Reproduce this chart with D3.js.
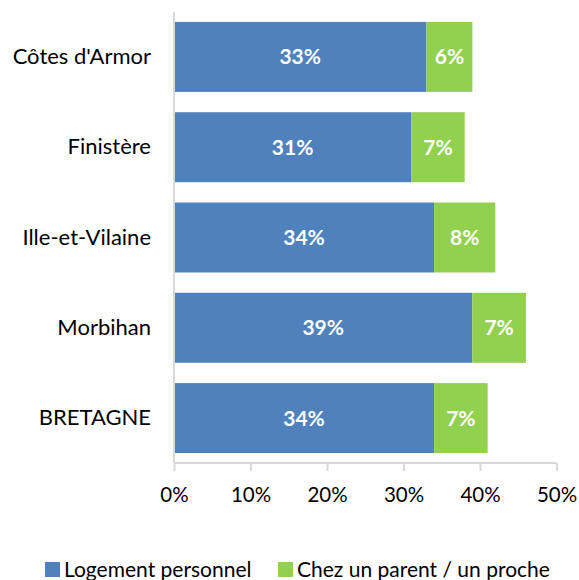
<!DOCTYPE html>
<html><head><meta charset="utf-8">
<script src="https://cdn.jsdelivr.net/npm/d3@7"></script>
<style>body{margin:0;background:#fff}svg{display:block}text{font-family:Lato,"Open Sans",sans-serif}</style>
</head><body><svg id="c" width="579" height="580"></svg>
<script>
const categories = ["Côtes d'Armor", "Finistère", "Ille-et-Vilaine", "Morbihan", "BRETAGNE"];
const logementPersonnel = [33, 31, 34, 39, 34];
const chezParent = [6, 7, 8, 7, 7];
const seriesNames = ["Logement personnel", "Chez un parent / un proche"];
const colors = ["#4F81BD", "#92D050"];
const tickValues = [0, 10, 20, 30, 40, 50];

const svg = d3.select("#c");
const x = d3.scaleLinear().domain([0, 50]).range([174, 556.5]);
const y = d3.scaleBand().domain(categories).range([12, 463]).paddingInner(0.225).paddingOuter(0.11);

const data = categories.map((c, i) => ({cat: c, a: logementPersonnel[i], b: chezParent[i]}));

// bars
const g = svg.append("g");
g.selectAll("rect.a").data(data).join("rect")
  .attr("x", x(0)).attr("y", d => y(d.cat)).attr("height", y.bandwidth())
  .attr("width", d => x(d.a) - x(0)).attr("fill", colors[0]);
g.selectAll("rect.b").data(data).join("rect")
  .attr("x", d => x(d.a)).attr("y", d => y(d.cat)).attr("height", y.bandwidth())
  .attr("width", d => x(d.a + d.b) - x(d.a)).attr("fill", colors[1]);

// value labels
g.selectAll("text.la").data(data).join("text")
  .attr("x", d => (x(0) + x(d.a)) / 2).attr("y", d => y(d.cat) + y.bandwidth() / 2)
  .attr("dy", "0.36em").attr("text-anchor", "middle").attr("fill", "#fff")
  .attr("font-weight", "bold").attr("font-size", 21).text(d => d.a + "%");
g.selectAll("text.lb").data(data).join("text")
  .attr("x", d => (x(d.a) + x(d.a + d.b)) / 2).attr("y", d => y(d.cat) + y.bandwidth() / 2)
  .attr("dy", "0.36em").attr("text-anchor", "middle").attr("fill", "#fff")
  .attr("font-weight", "bold").attr("font-size", 21).text(d => d.b + "%");

// x axis
const xAxis = svg.append("g").attr("transform", "translate(0,463)")
  .call(d3.axisBottom(x).tickValues(tickValues).tickSize(8).tickPadding(16).tickFormat(d => d + "%"));
xAxis.select(".domain").attr("stroke", "#D9D9D9").attr("stroke-width", 2).attr("d", `M${x(0)},0H${x(50)}`);
xAxis.selectAll(".tick line").attr("stroke", "#D9D9D9").attr("stroke-width", 2);
xAxis.selectAll(".tick text").attr("font-size", 20.5).attr("fill", "#000").attr("font-family", "Lato,'Open Sans',sans-serif");

// y axis
const yAxis = svg.append("g").attr("transform", `translate(${x(0)},0)`)
  .call(d3.axisLeft(y).tickSize(0).tickPadding(23));
yAxis.select(".domain").attr("stroke", "#D9D9D9").attr("stroke-width", 2).attr("d", "M0,12V463");
yAxis.selectAll(".tick text").attr("font-size", 22).attr("fill", "#000").attr("font-family", "Lato,'Open Sans',sans-serif");

// legend
const legend = svg.append("g");
const lx = [45, 278];
seriesNames.forEach((n, i) => {
  legend.append("rect").attr("x", lx[i]).attr("y", 562).attr("width", 15).attr("height", 15).attr("fill", colors[i]);
  legend.append("text").attr("x", lx[i] + 19).attr("y", 577)
    .attr("font-size", 21).attr("fill", "#000").text(n);
});
</script></body></html>
